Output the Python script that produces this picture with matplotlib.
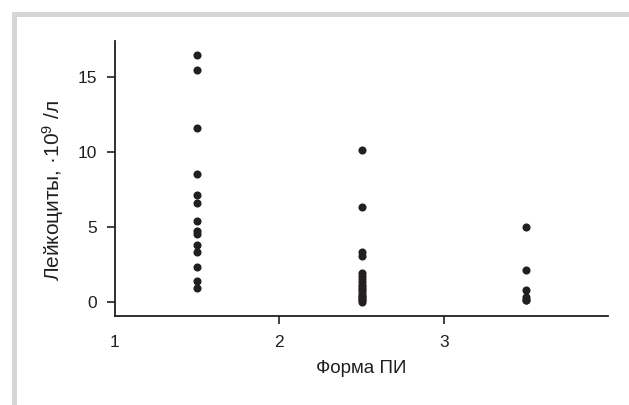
import matplotlib.pyplot as plt
from matplotlib.patches import Rectangle

plt.rcParams['font.family'] = ['Liberation Sans', 'DejaVu Sans']
plt.rcParams['mathtext.default'] = 'regular'

# ========== данные ==========
group_x = [1.5, 2.5, 3.5]
group1 = [16.5, 15.5, 11.6, 8.5, 7.1, 6.6, 5.4, 4.7, 4.5, 3.8, 3.35, 2.3, 1.4, 0.9]
group2 = [10.1, 6.3, 3.3, 3.05, 1.95, 1.75, 1.55, 1.35, 1.15, 1.0, 0.85,
          0.7, 0.55, 0.4, 0.3, 0.2, 0.1, 0.0]
group3 = [5.0, 2.1, 0.8, 0.3, 0.15, 0.1]
groups = [group1, group2, group3]

xticks = [1, 2, 3]
yticks = [0, 5, 10, 15]

txt = '#231f20'

fig = plt.figure(figsize=(6.29, 4.05), dpi=100, facecolor='white')
ax = fig.add_axes([0.1828, 0.2205, 0.784, 0.678])

for gx, vals in zip(group_x, groups):
    ax.scatter([gx] * len(vals), vals, s=34, color=txt, zorder=3, linewidths=0)

ax.set_xlim(1, 4.0)
ax.set_ylim(-0.93, 17.4)
ax.set_xticks(xticks)
ax.set_yticks(yticks)
ax.xaxis.get_major_ticks()[0].tick1line.set_visible(False)

for s in ['top', 'right']:
    ax.spines[s].set_visible(False)
for s in ['left', 'bottom']:
    ax.spines[s].set_linewidth(1.3)
    ax.spines[s].set_color(txt)

ax.tick_params(direction='out', length=6, width=1.2, color=txt,
               labelsize=12.5, labelcolor=txt)
ax.tick_params(axis='y', pad=7)
ax.tick_params(axis='x', pad=8)

ax.set_ylabel('Лейкоциты, ·10$^{9}$ /л', fontsize=15, color=txt)
ax.yaxis.set_label_coords(-0.10, 0.455)
ax.set_xlabel('Форма ПИ', fontsize=13.5, color=txt, va='top')
ax.xaxis.set_label_coords(0.5, -0.16)

# серая рамка сверху и слева
gray = '#d6d6d6'
fig.add_artist(Rectangle((12 / 629, 1 - 17 / 405), 1, 5 / 405,
                         transform=fig.transFigure, color=gray, lw=0))
fig.add_artist(Rectangle((12 / 629, 0), 5 / 629, 1 - 12 / 405,
                         transform=fig.transFigure, color=gray, lw=0))

fig.savefig('out.png', dpi=100, facecolor='white')
